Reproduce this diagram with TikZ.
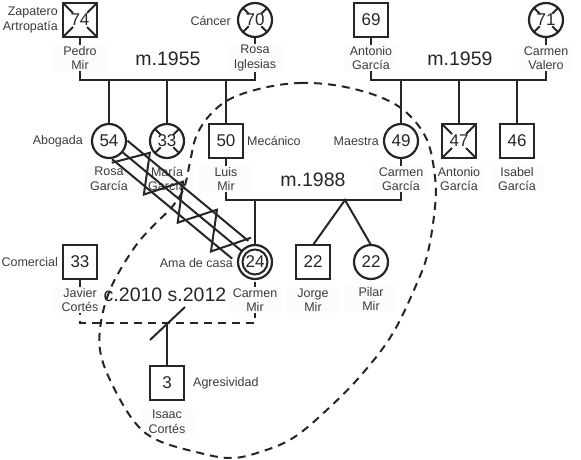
\documentclass[tikz,border=0pt]{standalone}
\usepackage{fontspec}
\setmainfont{Liberation Sans}
\usetikzlibrary{calc}
\definecolor{ink}{HTML}{262626}
\begin{document}
\begin{tikzpicture}[x=1pt,y=-1pt,
  male/.style={draw=ink, line width=2.2pt, minimum size=34pt, inner sep=0pt, outer sep=0pt,
    shape=rectangle, font=\fontsize{17}{18}\selectfont, text=ink},
  female/.style={male, shape=circle},
  lbl/.style={fill=gray!2.5, inner sep=1.5pt, minimum width=54pt, align=center,
    font=\fontsize{12.5}{14.5}\selectfont, text=ink!90},
  occ/.style={font=\fontsize{12.5}{14.5}\selectfont, text=ink!90, inner sep=0pt},
  rel/.style={draw=ink, line width=2pt},
  mtext/.style={font=\fontsize{19.5}{20}\selectfont, text=ink},
  dashline/.style={draw=ink, line width=2pt, dash pattern=on 8pt off 6pt},
]
\useasboundingbox (0,0) rectangle (581,460);

% ---- persons ----
\node[male]   (pm)  at (80,20)   {74};
\node[female] (ri)  at (255,20)  {70};
\node[male]   (ag)  at (371,20)  {69};
\node[female] (cv)  at (546,20)  {71};
\node[female] (rg)  at (109,141) {54};
\node[female] (mg)  at (167,141) {33};
\node[male]   (lm)  at (226,141) {50};
\node[female] (cg)  at (401,141) {49};
\node[male]   (ag2) at (459,141) {47};
\node[male]   (ig)  at (517,141) {46};
\node[male]   (jc)  at (80,262)  {33};
\node[female] (cm)  at (255,262) {24};
\node[male]   (jm)  at (313,262) {22};
\node[female] (pmr) at (371,262) {22};
\node[male]   (ic)  at (167,383) {3};
\draw[ink, line width=2pt] (cm.center) circle[radius=12.5];

% deceased marks
\foreach \n in {pm,ag2}{
  \draw[rel] (\n.north west) -- ++(10,10);
  \draw[rel] (\n.north east) -- ++(-10,10);
  \draw[rel] (\n.south west) -- ++(10,-10);
  \draw[rel] (\n.south east) -- ++(-10,-10);
}
\foreach \n in {ri,cv,mg}{
  \foreach \a in {45,135,225,315}{
    \draw[rel] (\n.\a) -- ($(\n.center)!0.52!(\n.\a)$);
  }
}

% ---- family connectors ----
\coordinate (m1) at (167,80);
\coordinate (m2) at (460,80);
\coordinate (m3) at (300,200);
\coordinate (tw) at (345,200);
\coordinate (m4) at (167,323);
\draw[rel] (pm.south) |- (m1) -| (ri.south);
\draw[rel] (ag.south) |- (m2) -| (cv.south);
\foreach \n in {rg,mg,lm}{\draw[rel] (\n.north) -- (\n.north |- m1);}
\foreach \n in {cg,ag2,ig}{\draw[rel] (\n.north) -- (\n.north |- m2);}
\draw[rel] (lm.south) |- (m3) -| (cg.south);
\draw[rel] (cm.north) -- (cm.north |- m3);
\draw[rel] (jm.north) -- (tw) -- (pmr.north);
\draw[dashline] (jc.south) |- (m4) -| (cm.south);
\draw[rel] (ic.north) -- (m4);
\draw[rel] ($(m4)+(-17,17)$) -- ($(m4)+(18,-16)$);

% ---- name labels ----
\node[lbl] (pm-l)  at (80,58)   {Pedro\\Mir};
\node[lbl] (ri-l)  at (255,58)  {Rosa\\Iglesias};
\node[lbl] (ag-l)  at (371,58)  {Antonio\\García};
\node[lbl] (cv-l)  at (546,58)  {Carmen\\Valero};
\node[lbl] (rg-l)  at (109,179) {Rosa\\García};
\node[lbl] (mg-l)  at (167,179) {María\\García};
\node[lbl] (lm-l)  at (226,179) {Luis\\Mir};
\node[lbl] (cg-l)  at (401,179) {Carmen\\García};
\node[lbl] (ag2-l) at (459,179) {Antonio\\García};
\node[lbl] (ig-l)  at (517,179) {Isabel\\García};
\node[lbl] (jc-l)  at (80,300)  {Javier\\Cortés};
\node[lbl] (cm-l)  at (255,300) {Carmen\\Mir};
\node[lbl] (jm-l)  at (313,300) {Jorge\\Mir};
\node[lbl] (pmr-l) at (371,299) {Pilar\\Mir};
\node[lbl] (ic-l)  at (167,422) {Isaac\\Cortés};

% ---- marriage texts ----
\node[mtext] (t1) at (168,59)  {m.1955};
\node[mtext] (t2) at (460,59)  {m.1959};
\node[mtext] (t3) at (313,180) {m.1988};
\node[mtext] (t4) at (165,295) {c.2010 s.2012};

% ---- occupations ----
\node[occ, anchor=east, align=right] (o1) at (58,20) {Zapatero\\Artropatía};
\node[occ, anchor=east] (o2) at (231,21)  {Cáncer};
\node[occ, anchor=east] (o3) at (83,141)  {Abogada};
\node[occ, anchor=west] (o4) at (247,141) {Mecánico};
\node[occ, anchor=east] (o5) at (379,141) {Maestra};
\node[occ, anchor=east] (o6) at (58,262)  {Comercial};
\node[occ, anchor=east] (o7) at (233,263) {Ama de casa};
\node[occ, anchor=west] (o8) at (193,383) {Agresividad};

% ---- fused-hostile relation Rosa García -- Carmen Mir ----
\begin{scope}[shift={(rg.center)}, rotate=-39.65]
  \draw[rel] (14,-12) -- (171,-12);
  \draw[rel] (18,0) -- (172,0);
  \draw[rel] (14,12) -- (170,12);
  \draw[rel] (16,15) -- (39,-17) -- (61,19) -- (83,-16) -- (105,19)
        -- (127,-16) -- (149,20) -- (171,-16);
\end{scope}

% ---- household boundary ----
\draw[dashline] plot[smooth cycle, tension=0.6] coordinates {
 (263,88) (300,83) (340,86) (380,97) (407,113) (427,140) (435,177) (435,207)
 (428,252) (417,283) (393,333) (363,373) (330,407) (293,438) (257,453) (230,458)
 (200,453) (157,440) (133,420) (110,380) (100,350) (101,322) (108,295) (119,272)
 (137,244) (155,224) (172,207) (184,188) (190,162) (196,137) (209,116) (230,99)};
\end{tikzpicture}
\end{document}
